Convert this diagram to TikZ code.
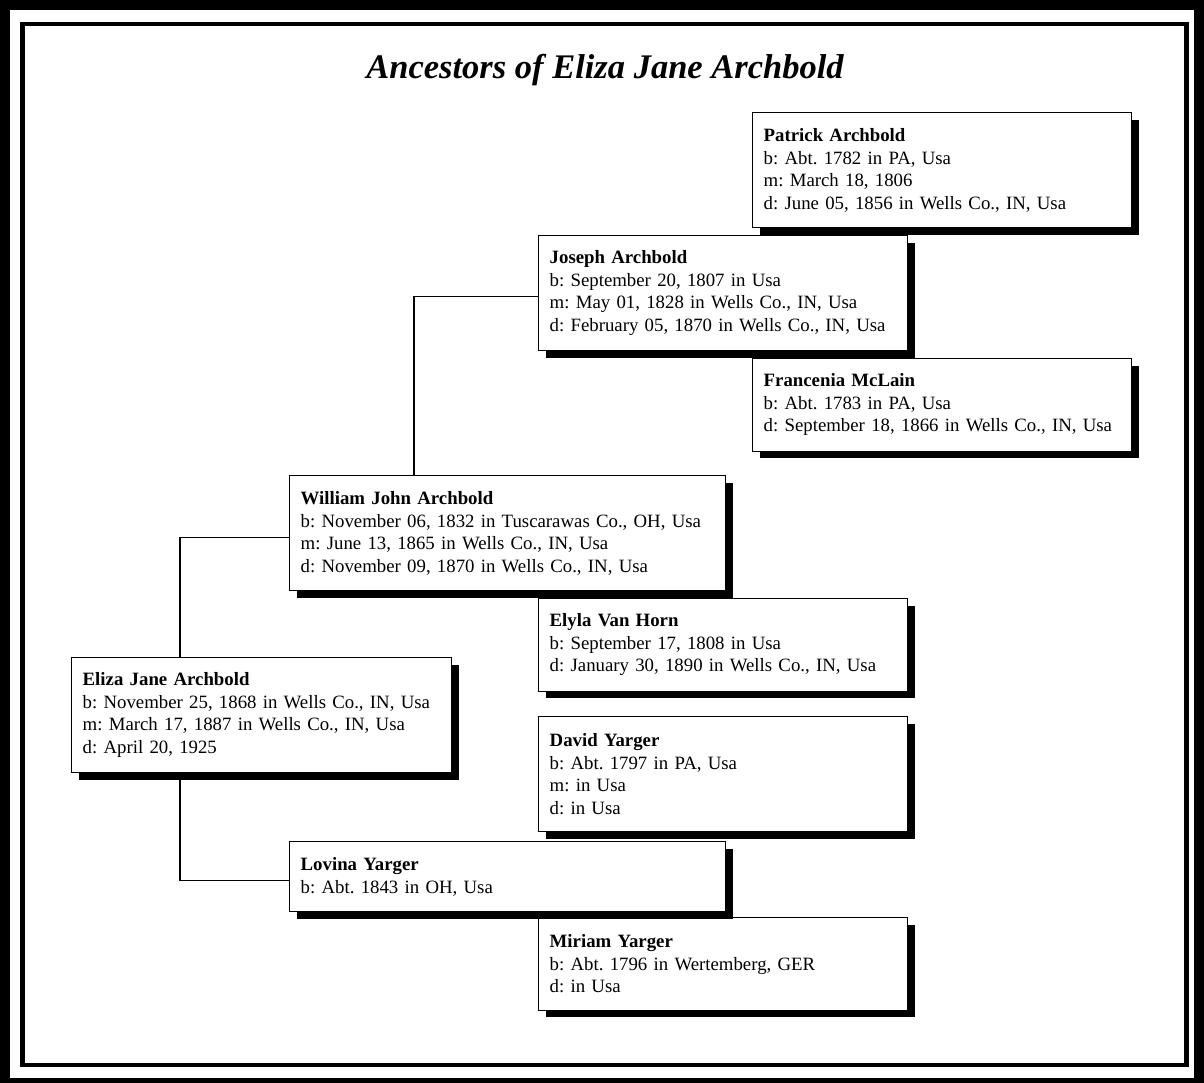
\documentclass[tikz,border=0pt]{standalone}
\usepackage{fontspec}
\setmainfont{Liberation Serif}
\usetikzlibrary{shadows}
\frenchspacing

\begin{document}
\begin{tikzpicture}[x=1pt,y=-1pt,
  person/.style={draw,line width=1.4pt,fill=white,anchor=north west,
    align=left,inner xsep=11pt,inner ysep=0pt,text width=#1,
    font=\fontsize{18.8}{22.5}\selectfont,
    drop shadow={shadow xshift=7pt,shadow yshift=-7pt,fill=black,opacity=1}},
  lines/.style={minimum height={22.5pt*#1+25pt}},
  link/.style={line width=1.3pt}]
\useasboundingbox (0,0) rectangle (1204,1083);
\fill[white] (0,0) rectangle (1204,1083);
% frames
\draw[line width=10pt] (5,5) rectangle (1199,1083);
\draw[line width=4.5pt] (22.5,24) rectangle (1186.5,1065);
\node[font=\bfseries\itshape\fontsize{34.5}{40}\selectfont] (heading) at (605,70)
  {Ancestors of Eliza Jane Archbold};
% generation 4
\node[person=357pt,lines=4] (patrick) at (752,112)
  {\textbf{Patrick Archbold}\\b: Abt. 1782 in PA, Usa\\m: March 18, 1806\\d: June 05, 1856 in Wells Co., IN, Usa};
\node[person=357pt,lines=3] (francenia) at (752,358)
  {\textbf{Francenia McLain}\\b: Abt. 1783 in PA, Usa\\d: September 18, 1866 in Wells Co., IN, Usa};
% generation 3
\node[person=347pt,lines=4] (joseph) at (538,235)
  {\textbf{Joseph Archbold}\\b: September 20, 1807 in Usa\\m: May 01, 1828 in Wells Co., IN, Usa\\d: February 05, 1870 in Wells Co., IN, Usa};
\node[person=347pt,lines=3] (elyla) at (538,598)
  {\textbf{Elyla Van Horn}\\b: September 17, 1808 in Usa\\d: January 30, 1890 in Wells Co., IN, Usa};
\node[person=347pt,lines=4] (david) at (538,716)
  {\textbf{David Yarger}\\b: Abt. 1797 in PA, Usa\\m: in Usa\\d: in Usa};
\node[person=347pt,lines=3] (miriam) at (538,917)
  {\textbf{Miriam Yarger}\\b: Abt. 1796 in Wertemberg, GER\\d: in Usa};
% generation 2
\node[person=414pt,lines=4] (william) at (289,475)
  {\textbf{William John Archbold}\\b: November 06, 1832 in Tuscarawas Co., OH, Usa\\m: June 13, 1865 in Wells Co., IN, Usa\\d: November 09, 1870 in Wells Co., IN, Usa};
\node[person=414pt,lines=2] (lovina) at (289,841)
  {\textbf{Lovina Yarger}\\b: Abt. 1843 in OH, Usa};
% generation 1
\node[person=358pt,lines=4] (eliza) at (71,657)
  {\textbf{Eliza Jane Archbold}\\b: November 25, 1868 in Wells Co., IN, Usa\\m: March 17, 1887 in Wells Co., IN, Usa\\d: April 20, 1925};
% connectors
\draw[link] ([xshift=109pt]eliza.north west) |- ([yshift=-4pt]william.west);
\draw[link] ([xshift=109pt]eliza.south west) |- ([yshift=-4pt]lovina.west);
\draw[link] ([xshift=125pt]william.north west) |- ([yshift=-3pt]joseph.west);
\end{tikzpicture}
\end{document}
